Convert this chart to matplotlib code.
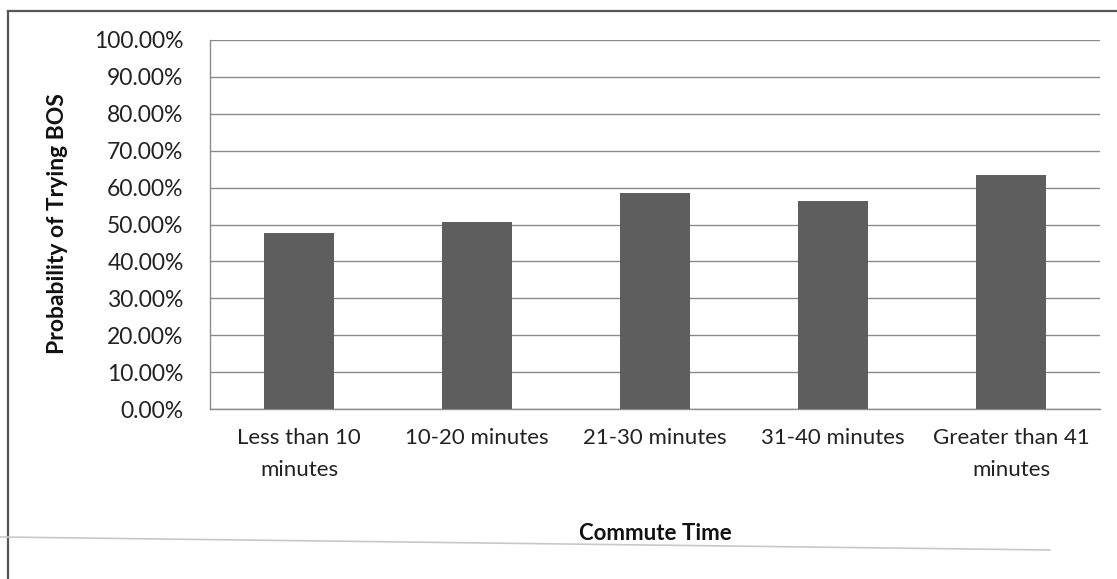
import matplotlib
matplotlib.use("Agg")
import matplotlib.pyplot as plt
from matplotlib.lines import Line2D
from matplotlib.ticker import PercentFormatter

# Probability of trying BOS by commute time
categories = ["Less than 10\nminutes", "10-20 minutes", "21-30 minutes",
              "31-40 minutes", "Greater than 41\nminutes"]
probability = [47.8, 50.6, 58.5, 56.3, 63.3]
y_ticks = [0, 10, 20, 30, 40, 50, 60, 70, 80, 90, 100]

plt.rcParams["font.family"] = ["Lato", "DejaVu Sans"]

W, H = 1117, 579
fig = plt.figure(figsize=(W / 100, H / 100), dpi=100)
fig.patch.set_facecolor("white")

# plot area in pixel coordinates
left, right, top, bottom = 210, 1100, 40, 409
ax = fig.add_axes([left / W, 1 - bottom / H, (right - left) / W, (bottom - top) / H])

x = range(len(categories))
ax.bar(x, probability, width=0.39, color="#5e5e5e", zorder=3)

ax.set_xlim(-0.5, len(categories) - 0.5)
ax.set_ylim(0, 100)
ax.set_yticks(y_ticks)
ax.yaxis.set_major_formatter(PercentFormatter(decimals=2))
ax.grid(axis="y", color="#8a8a8a", linewidth=1.0, zorder=0)
ax.set_axisbelow(True)

ax.set_xticks(list(x))
ax.set_xticklabels(categories, fontsize=16, color="#222222", linespacing=1.7)
ax.tick_params(axis="x", length=0, pad=14)
ax.tick_params(axis="y", length=0, pad=19, labelsize=16.5, labelcolor="#222222")

for side in ("top", "right"):
    ax.spines[side].set_visible(False)
for side in ("left", "bottom"):
    ax.spines[side].set_color("#8a8a8a")
    ax.spines[side].set_linewidth(1.0)

fig.text(58 / W, 1 - 224 / H, "Probability of Trying BOS", rotation=90,
         ha="center", va="center", fontsize=16.5, fontweight="bold", color="#111111")
fig.text(655 / W, 1 - 534 / H, "Commute Time", ha="center", va="center",
         fontsize=16, fontweight="bold", color="#111111")

# chart frame (left and top edges) and faint page rule
fig.add_artist(Line2D([8 / W, 8 / W], [0, 1 - 10.5 / H], transform=fig.transFigure,
                      color="#555555", linewidth=1.6))
fig.add_artist(Line2D([8 / W, 1], [1 - 10.5 / H, 1 - 10.5 / H], transform=fig.transFigure,
                      color="#555555", linewidth=1.6))
fig.add_artist(Line2D([0, 1050 / W], [1 - 537 / H, 1 - 550 / H], transform=fig.transFigure,
                      color="#c8c8c8", linewidth=1.2))

fig.savefig("out.png", dpi=100)
